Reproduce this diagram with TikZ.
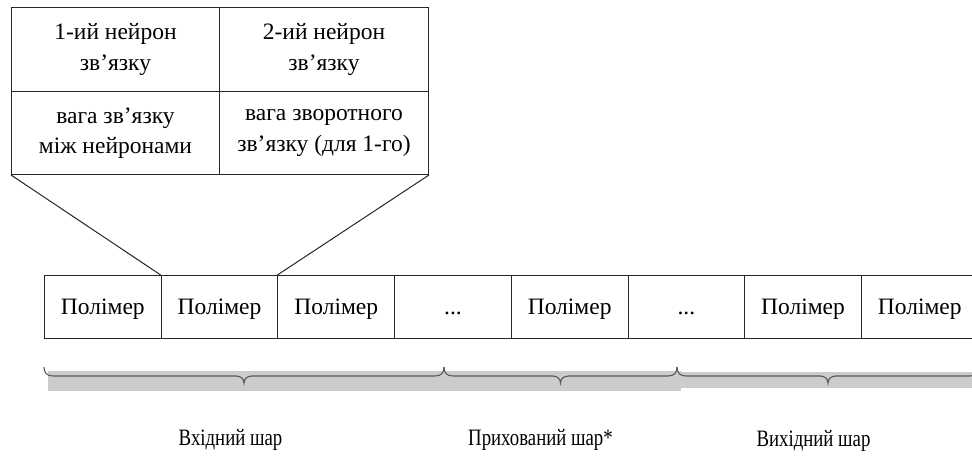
\documentclass[tikz,border=0pt]{standalone}
\usepackage{fontspec}
\setmainfont{Liberation Serif}
\begin{document}
\begin{tikzpicture}[x=1pt,y=-1pt,
  lin/.style={draw=black!85, line width=1pt},
  cell/.style={lin, minimum width=116.7pt, minimum height=63pt, inner sep=0pt, anchor=north west,
    font=\fontsize{23.5}{27}\selectfont, text height=16pt, text depth=1pt},
  tcell/.style={lin, minimum height=84pt, inner sep=0pt, anchor=north west, align=center,
    font=\fontsize{23.5}{30.5}\selectfont},
  brc/.style={draw=black!65, line width=1.1pt},
  shadowbar/.style={fill=black!20, draw=none},
  lab/.style={anchor=base, font=\fontsize{23.5}{27}\selectfont}
]
\useasboundingbox (0,0) rectangle (972,457);
\clip (0,0) rectangle (972,457);
% top table
\node[tcell, minimum width=208pt] (t1) at (11,7) {1-ий нейрон\\зв’язку};
\node[tcell, minimum width=209pt] (t2) at (219,7) {2-ий нейрон\\зв’язку};
\node[tcell, minimum width=208pt, minimum height=83pt] (t3) at (11,91) {вага зв’язку\\між нейронами};
\node[tcell, minimum width=209pt, minimum height=83pt] (t4) at (219,91) {вага зворотного\\зв’язку (для 1-го)};
% polymer row
\node[cell] (p1) at (44,275) {Полімер};
\node[cell] (p2) at (160.7,275) {Полімер};
\node[cell] (p3) at (277.4,275) {Полімер};
\node[cell] (p4) at (394.1,275) {...};
\node[cell] (p5) at (510.8,275) {Полімер};
\node[cell] (p6) at (627.5,275) {...};
\node[cell] (p7) at (744.2,275) {Полімер};
\node[cell] (p8) at (860.9,275) {Полімер};
% connectors
\draw[lin] (t3.south west) -- (p2.north west);
\draw[lin] (t4.south east) -- (p3.north west);
% shadows
\fill[shadowbar] (48,371) rectangle (681,391);
\fill[shadowbar] (681,372) rectangle (983,388);
% braces
\foreach \xa/\xb in {44/444, 444/677, 677/979}{
  \pgfmathsetmacro{\xm}{(\xa+\xb)/2}
  \draw[brc] (\xa,367) .. controls (\xa,373) and (\xa+3,376) .. (\xa+9,376)
    -- (\xm-8,376) .. controls (\xm-3,376) and (\xm,379) .. (\xm,383)
    .. controls (\xm,379) and (\xm+3,376) .. (\xm+8,376)
    -- (\xb-9,376) .. controls (\xb-3,376) and (\xb,373) .. (\xb,367);
}
% labels
\node[lab] (l1) at (230.5,445) {\scalebox{0.8}[1]{Вхідний шар}};
\node[lab] (l2) at (540.5,445) {\scalebox{0.8}[1]{Прихований шар*}};
\node[lab] (l3) at (813.5,446) {\scalebox{0.8}[1]{Вихідний шар}};
\end{tikzpicture}
\end{document}
